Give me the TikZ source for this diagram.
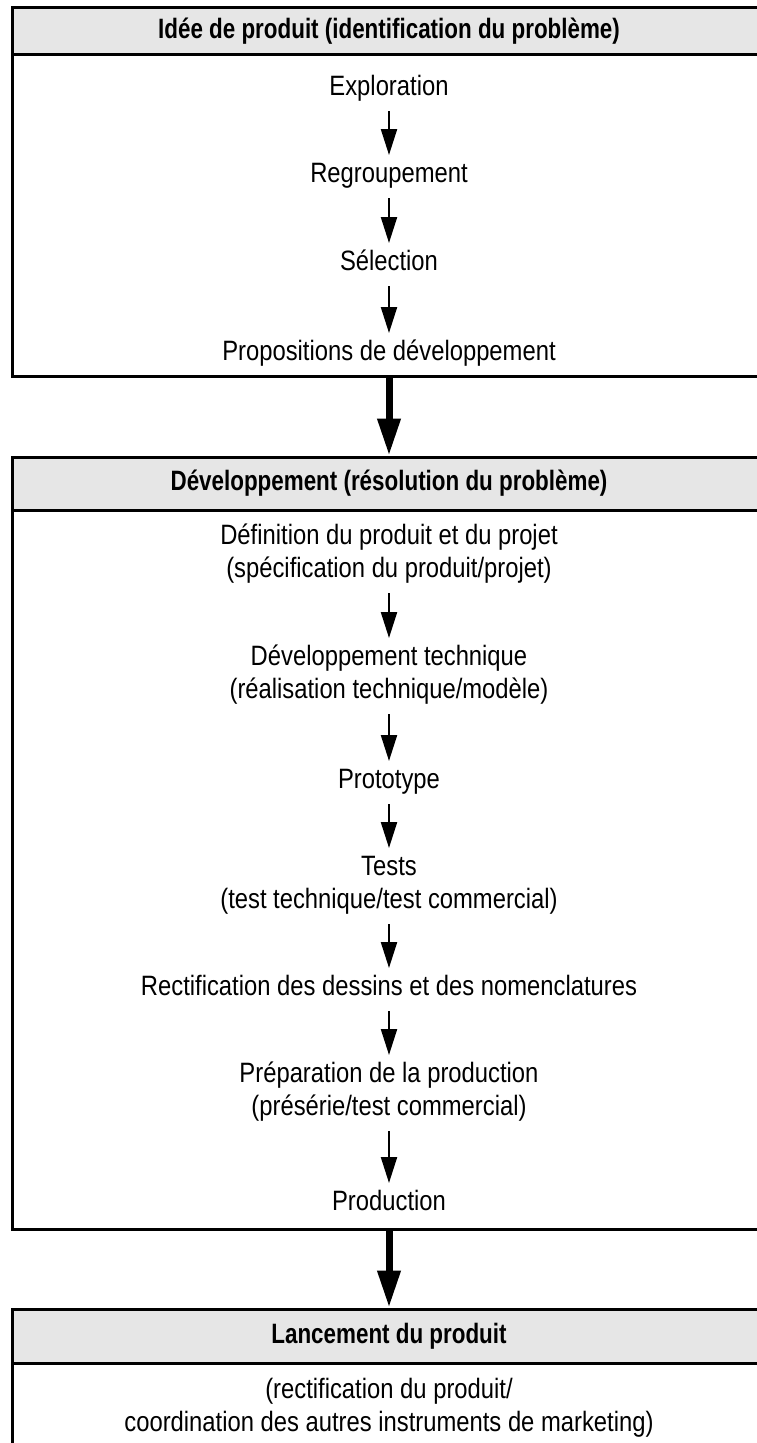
\documentclass[tikz,border=0pt]{standalone}
\usepackage{fontspec}
\setmainfont{Liberation Sans}[FakeStretch=0.85, BoldFeatures={FakeStretch=0.80}]
\usetikzlibrary{arrows.meta}
\definecolor{headgray}{HTML}{E6E6E6}

\begin{document}
\begin{tikzpicture}[x=1pt, y=-1pt,
  phasebox/.style={draw=black, line width=3pt, outer sep=0pt, inner sep=0pt, minimum width=754pt},
  headband/.style={phasebox, fill=headgray},
  label/.style={anchor=base, inner sep=0pt, outer sep=0pt, align=center,
    text height=20pt, text depth=0pt, font=\fontsize{28}{33}\selectfont},
  % two-line labels are placed at the baseline of their second line
  twoline/.style={label, text height=53pt},
  headlabel/.style={label, font=\fontsize{28}{33}\selectfont\bfseries},
  stepflow/.style={-{Triangle[width=16pt, length=26pt]}, line width=2.2pt,
    shorten <=16pt, shorten >=7pt},
  phaseflow/.style={-{Triangle[width=22pt, length=37pt]}, line width=7pt, shorten >=1.5pt},
]
\useasboundingbox (0,0) rectangle (757,1443);
\clip (0,0) rectangle (757,1443);

% phase frames and their grey title bands
\node[phasebox, minimum height=369pt] (phase1) at (389,191.5) {};
\node[headband, minimum height=47pt] (band1) at (389,30.5) {};
\node[phasebox, minimum height=772pt] (phase2) at (389,843) {};
\node[headband, minimum height=53pt] (band2) at (389,483.5) {};
\node[phasebox, minimum height=160pt] (phase3) at (389,1389) {};
\node[headband, minimum height=54pt] (band3) at (389,1336) {};

% phase 1: idea
\node[headlabel] (head1) at (389,38) {Idée de produit (identification du problème)};
\node[label] (explore) at (389,95) {Exploration};
\node[label] (group) at (389,182) {Regroupement};
\node[label] (select) at (389,270) {Sélection};
\node[label] (propose) at (389,360) {Propositions de développement};

% phase 2: development
\node[headlabel] (head2) at (389,490) {Développement (résolution du problème)};
\node[twoline] (define) at (389,577) {Définition du produit et du projet\\(spécification du produit/projet)};
\node[twoline] (techdev) at (389,698) {Développement technique\\(réalisation technique/modèle)};
\node[label] (proto) at (389,788) {Prototype};
\node[twoline] (tests) at (389,908) {Tests\\(test technique/test commercial)};
\node[label] (rectify) at (389,995) {Rectification des dessins et des nomenclatures};
\node[twoline] (prepare) at (389,1115) {Préparation de la production\\(présérie/test commercial)};
\node[label] (produce) at (389,1210) {Production};

% phase 3: launch
\node[headlabel] (head3) at (389,1343) {Lancement du produit};
\node[twoline] (launch) at (389,1431) {(rectification du produit/\\coordination des autres instruments de marketing)};

% steps inside the phases
\draw[stepflow] (explore.south) -- (group.north);
\draw[stepflow] (group.south) -- (select.north);
\draw[stepflow] (select.south) -- (propose.north);
\draw[stepflow] (define.south) -- (techdev.north);
\draw[stepflow] (techdev.south) -- (proto.north);
\draw[stepflow] (proto.south) -- (tests.north);
\draw[stepflow] (tests.south) -- (rectify.north);
\draw[stepflow] (rectify.south) -- (prepare.north);
\draw[stepflow] (prepare.south) -- (produce.north);

% transitions between the phases
\draw[phaseflow] (phase1.south) -- (phase2.north);
\draw[phaseflow] (phase2.south) -- (phase3.north);
\end{tikzpicture}
\end{document}
